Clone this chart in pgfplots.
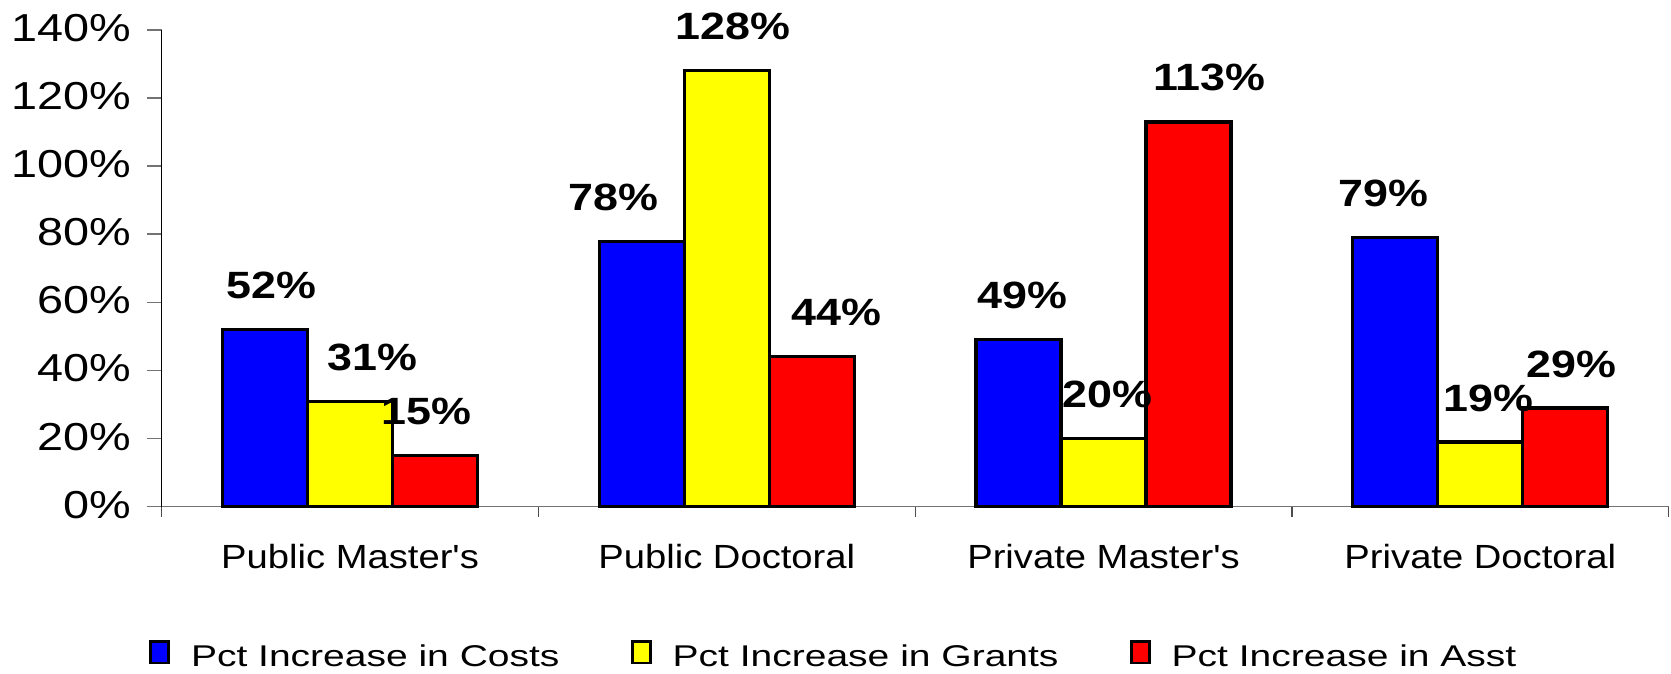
\documentclass[border=0pt]{standalone}
\usepackage{pgfplots}
\pgfplotsset{compat=1.18}
\usepackage{pgfplotstable}
\usepackage{fontspec}
\setmainfont{Liberation Sans}[Ligatures=TeXOff]
\newfontfamily\tickfont{Liberation Sans}[FakeStretch=1.2, Ligatures=TeXOff]
\newfontfamily\lblfont{Liberation Sans}[FakeStretch=1.18, Ligatures=TeXOff]
\newfontfamily\catfont{Liberation Sans}[FakeStretch=1.14, Ligatures=TeXOff]
\newfontfamily\legfont{Liberation Sans}[FakeStretch=1.3, Ligatures=TeXOff]

\definecolor{xlblue}{RGB}{0,0,255}
\definecolor{xlyellow}{RGB}{255,255,0}
\definecolor{xlred}{RGB}{255,0,0}

% x = category index, y = percent, dx = label offset (pt)
\pgfplotstableread{
x y dx
0 52 3
1 78 -14
2 49 2
3 79 -6
}\costs
\pgfplotstableread{
x y dx
0 31 11
1 128 3.2
2 20 2
3 19 4
}\grants
\pgfplotstableread{
x y dx
0 15 -4.5
1 44 12.5
2 113 10.5
3 29 3
}\asst

\begin{document}
\begin{tikzpicture}
\begin{axis}[
  name=ax,
  scale only axis,
  width=753.5pt, height=238.35pt,
  clip=false,
  ybar=0pt, bar width=42.5pt,
  xmin=-0.5, xmax=3.5, ymin=0, ymax=140,
  axis x line*=bottom, axis y line*=left,
  x axis line style={black!55, line width=0.8pt},
  y axis line style={black, line width=0.6pt},
  tick align=outside,
  /pgf/number format/assume math mode=true,
  xtick={0,1,2,3},
  xticklabels={Public Master's, Public Doctoral, Private Master's, Private Doctoral},
  major x tick style={draw=none},
  minor xtick={-0.5,0.5,1.5,2.5,3.5},
  minor x tick style={black!70, line width=0.6pt},
  minor tick length=5pt,
  major tick length=7.3pt,
  major y tick style={black!55, line width=0.8pt},
  xticklabel style={font=\catfont\fontsize{16.75}{20}\selectfont, yshift=-8pt},
  ytick={0,20,...,140},
  yticklabel={\pgfmathprintnumber{\tick}\%},
  yticklabel style={font=\tickfont\fontsize{19.5}{23}\selectfont, xshift=-4.4pt, yshift=1pt},
  visualization depends on={\thisrow{dx} \as \dx},
  nodes near coords={\pgfmathprintnumber{\pgfplotspointmeta}\%},
  every node near coord/.append style={font=\lblfont\fontsize{19}{23}\selectfont\bfseries,
    anchor=center, yshift=22pt, xshift=\dx pt},
  legend style={at={(-0.0084,-0.279)}, anchor=north west, draw=none, fill=none,
    inner sep=0pt, legend columns=3, font=\legfont\fontsize{15}{18}\selectfont,
    nodes={inner sep=0pt},
    /tikz/every odd column/.append style={column sep=10.5pt},
    /tikz/every even column/.append style={column sep=35.8pt}},
  legend image code/.code={\draw[#1, line width=1.3pt] (0pt,-3pt) rectangle (9pt,7.8pt);},
]
\addplot[fill=xlblue, draw=black, line width=1.6pt] table[x=x, y=y]{\costs};
\addlegendentry{Pct Increase in Costs}
\addplot[fill=xlyellow, draw=black, line width=1.6pt] table[x=x, y=y]{\grants};
\addlegendentry{Pct Increase in Grants}
\addplot[fill=xlred, draw=black, line width=1.6pt] table[x=x, y=y]{\asst};
\addlegendentry{Pct Increase in Asst}
\end{axis}
\path ([shift={(-80.85pt,-83.65pt)}]ax.south west) rectangle ([shift={(1.15pt,15pt)}]ax.north east);
\end{tikzpicture}
\end{document}
